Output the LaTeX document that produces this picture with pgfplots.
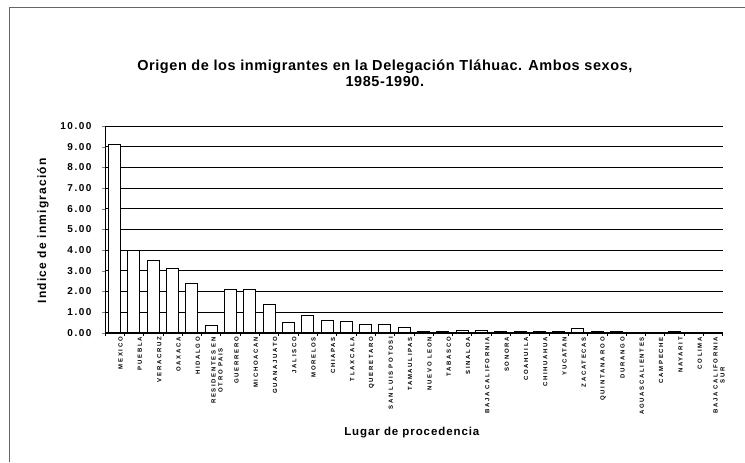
\documentclass[border=0pt]{standalone}
\usepackage{fontspec}
\setmainfont{Liberation Sans}
\usepackage{pgfplots}
\pgfplotsset{compat=1.18}

\begin{document}
\begin{tikzpicture}
\path (0pt,0pt) rectangle (745pt,-462pt);
% chart area frame (top and left visible in the scan)
\draw[black!60, line width=0.6pt] (9pt,-7pt) -- (745pt,-7pt);
\draw[black!60, line width=0.6pt] (9pt,-7pt) -- (9pt,-462pt);

\node[align=center, font=\fontsize{14.5}{16}\selectfont\bfseries\addfontfeature{LetterSpace=4}] at (385pt,-73pt)
  {Origen de los inmigrantes en la Delegación Tláhuac. Ambos sexos,\\1985-1990.};
\node[rotate=90, font=\fontsize{12}{14}\selectfont\bfseries\addfontfeature{LetterSpace=10}] at (43pt,-231pt) {Indice de inmigración};
\node[font=\fontsize{11.5}{14}\selectfont\bfseries\addfontfeature{LetterSpace=8}] at (412pt,-433pt) {Lugar de procedencia};

\begin{axis}[
  at={(105pt,-333pt)}, anchor=south west,
  width=618pt, height=207pt, scale only axis,
  set layers=standard, axis on top=false,
  xmin=-0.5, xmax=31.5, ymin=0, ymax=10,
  axis lines*=left,
  axis line style={black, line width=0.8pt},
  ytick={0,1,...,10},
  ymajorgrids, grid style={black, line width=0.6pt},
  y tick label style={font=\fontsize{10}{12}\selectfont\bfseries\addfontfeature{LetterSpace=15}, xshift=-7pt},
  yticklabel style={/pgf/number format/.cd, fixed, fixed zerofill, precision=2, assume math mode=true},
  tick align=outside, major tick length=3pt,
  xtick={0,...,31}, x tick style={draw=none},
  extra x ticks={-0.5,0.5,...,31.5}, extra x tick labels={},
  extra x tick style={x tick style={draw=black, line width=0.6pt}, grid=none},
  xticklabels={MEXICO,PUEBLA,VERACRUZ,OAXACA,HIDALGO,{RESIDENTES EN\\OTRO PAIS},GUERRERO,MICHOACAN,GUANAJUATO,JALISCO,MORELOS,CHIAPAS,TLAXCALA,QUERETARO,SAN LUIS POTOSI,TAMAULIPAS,NUEVO LEON,TABASCO,SINALOA,BAJA CALIFORNIA,SONORA,COAHUILA,CHIHUAHUA,YUCATAN,ZACATECAS,QUINTANA ROO,DURANGO,AGUASCALIENTES,CAMPECHE,NAYARIT,COLIMA,{BAJA CALIFORNIA\\SUR}},
  xticklabel style={rotate=90, anchor=east, align=center, inner sep=1pt, yshift=-6pt,
    font=\fontsize{6}{7}\selectfont\bfseries\addfontfeature{LetterSpace=28}},
  clip=false,
]
\addplot[ybar, bar width=12pt, draw=black, line width=0.9pt, fill=white] coordinates {
  (0,9.10) (1,4.00) (2,3.50) (3,3.10) (4,2.40) (5,0.35) (6,2.10) (7,2.10)
  (8,1.38) (9,0.50) (10,0.82) (11,0.58) (12,0.53) (13,0.43) (14,0.40) (15,0.24)
  (16,0.06) (17,0.08) (18,0.10) (19,0.12) (20,0.05) (21,0.06) (22,0.08) (23,0.08)
  (24,0.22) (25,0.05) (26,0.08) (27,0.04) (28,0.04) (29,0.06) (30,0.04) (31,0.04)
};
\end{axis}
\end{tikzpicture}
\end{document}
